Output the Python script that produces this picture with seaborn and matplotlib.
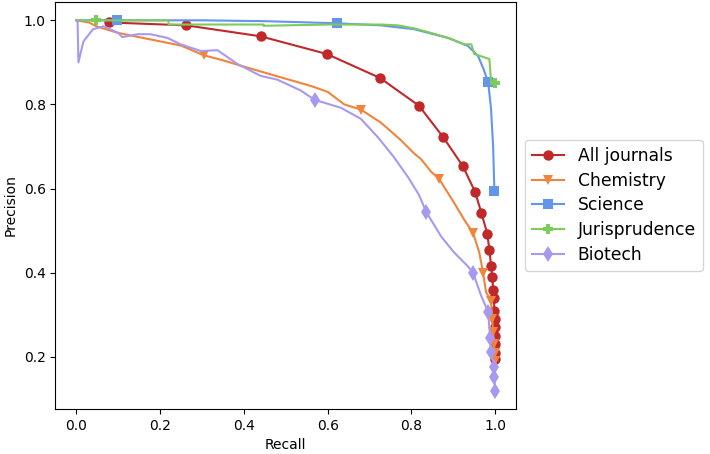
import matplotlib
matplotlib.use("Agg")
import matplotlib.pyplot as plt
import seaborn as sns

# All journals (every point carries a marker)
all_recall = [0.077, 0.263, 0.44, 0.598, 0.725, 0.818, 0.876, 0.923, 0.952, 0.967,
              0.981, 0.986, 0.99, 0.993, 0.995, 0.997, 0.998, 0.999, 0.999, 1.0, 1.0, 1.0, 1.0]
all_precision = [0.995, 0.988, 0.962, 0.92, 0.863, 0.797, 0.722, 0.653, 0.592, 0.542,
                 0.493, 0.455, 0.417, 0.39, 0.36, 0.34, 0.31, 0.29, 0.27, 0.25, 0.23, 0.21, 0.195]

# Chemistry
chem_recall = [0.0, 0.03, 0.05, 0.1, 0.15, 0.2, 0.25, 0.304, 0.35, 0.4, 0.476, 0.56, 0.6,
               0.64, 0.679, 0.727, 0.775, 0.806, 0.823, 0.847, 0.866, 0.902, 0.926, 0.947,
               0.962, 0.971, 0.978, 0.99, 0.993, 0.995, 0.997, 0.999, 1.0]
chem_precision = [1.0, 0.995, 0.985, 0.97, 0.96, 0.95, 0.94, 0.917, 0.905, 0.89, 0.868, 0.844, 0.83,
                  0.80, 0.788, 0.757, 0.715, 0.684, 0.67, 0.64, 0.623, 0.566, 0.526, 0.495,
                  0.448, 0.40, 0.354, 0.333, 0.29, 0.26, 0.23, 0.21, 0.19]
chem_marks = [7, 14, 20, 23, 25, 27, 28, 29, 30, 31, 32]

# Science
sci_recall = [0.0, 0.096, 0.3, 0.45, 0.622, 0.727, 0.806, 0.888, 0.935, 0.959, 0.971,
              0.983, 0.99, 0.995, 0.998]
sci_precision = [1.0, 1.0, 1.0, 0.998, 0.993, 0.988, 0.979, 0.958, 0.939, 0.915, 0.887,
                 0.854, 0.79, 0.70, 0.595]
sci_marks = [1, 4, 11, 14]

# Jurisprudence
jur_recall = [0.0, 0.048, 0.22, 0.22, 0.447, 0.447, 0.6, 0.727, 0.768, 0.806, 0.847,
              0.888, 0.926, 0.943, 0.95, 0.986, 0.99, 1.0]
jur_precision = [1.0, 1.0, 1.0, 0.99, 0.99, 0.987, 0.99, 0.99, 0.988, 0.981, 0.97,
                 0.958, 0.943, 0.943, 0.92, 0.908, 0.856, 0.851]
jur_marks = [1, 17]

# Biotech
bio_recall = [0.003, 0.005, 0.017, 0.04, 0.065, 0.1, 0.11, 0.146, 0.177, 0.218, 0.249,
              0.297, 0.337, 0.385, 0.44, 0.48, 0.536, 0.569, 0.632, 0.679, 0.72, 0.758,
              0.792, 0.818, 0.835, 0.871, 0.902, 0.935, 0.947, 0.967, 0.983, 0.988, 0.99,
              0.997, 0.998, 1.0]
bio_precision = [1.0, 0.9, 0.95, 0.979, 0.986, 0.97, 0.96, 0.967, 0.967, 0.958, 0.943,
                 0.927, 0.929, 0.896, 0.868, 0.859, 0.833, 0.811, 0.792, 0.766, 0.722, 0.675,
                 0.627, 0.585, 0.545, 0.486, 0.448, 0.415, 0.40, 0.344, 0.307, 0.245, 0.212,
                 0.177, 0.153, 0.12]
bio_marks = [17, 24, 28, 30, 31, 32, 33, 34, 35]

fig = plt.figure(figsize=(7.1, 4.54), dpi=100)
ax = fig.add_axes([0.078, 0.099, 0.649, 0.897])

sns.lineplot(x=all_recall, y=all_precision, sort=False, estimator=None, color="#c0282a",
             marker="o", markersize=7.5, markeredgewidth=0, label="All journals", ax=ax)
sns.lineplot(x=chem_recall, y=chem_precision, sort=False, estimator=None, color="#f0843c",
             marker="v", markersize=7.5, markeredgewidth=0, markevery=chem_marks,
             label="Chemistry", ax=ax)
sns.lineplot(x=sci_recall, y=sci_precision, sort=False, estimator=None, color="#6495ed",
             marker="s", markersize=7, markeredgewidth=0, markevery=sci_marks,
             label="Science", ax=ax)
sns.lineplot(x=jur_recall, y=jur_precision, sort=False, estimator=None, color="#7ccc5a",
             marker="P", markersize=7.5, markeredgewidth=0, markevery=jur_marks,
             label="Jurisprudence", ax=ax)
sns.lineplot(x=bio_recall, y=bio_precision, sort=False, estimator=None, color="#a899f0",
             marker="d", markersize=8, markeredgewidth=0, markevery=bio_marks,
             label="Biotech", ax=ax)

ax.set_xlabel("Recall", fontsize=10)
ax.set_ylabel("Precision", fontsize=10)
ax.set_xlim(-0.05, 1.05)
ax.set_ylim(0.076, 1.044)
ax.legend(loc="center left", bbox_to_anchor=(1.0, 0.5), fontsize=12.3, labelspacing=0.4,
          handlelength=1.9)

fig.savefig("out.png", dpi=100)
